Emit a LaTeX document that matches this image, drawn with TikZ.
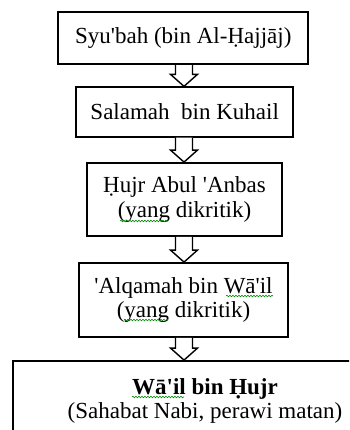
\documentclass[tikz,border=0pt]{standalone}
\usepackage{fontspec}
\setmainfont{Liberation Serif}
\usetikzlibrary{calc,decorations.pathmorphing}
\newcommand\ap{\textquotesingle}
\tikzset{
  box/.style={draw=black, line width=1.8pt, rectangle, inner sep=0pt, align=center,
    font=\fontsize{23}{24.5}\selectfont},
  blockarrow/.style={draw=black, line width=1.4pt, fill=white, line join=miter},
  squiggle/.style={draw=green!55!black, line width=0.6pt,
    decorate, decoration={snake, amplitude=0.8pt, segment length=3pt}}
}
\newcommand\blockarr[2]{%
  \draw[blockarrow] ($(#1.south -| ax)+(-8.5,0)$) -- ($(#2.north -| ax)+(-8.5,-12)$)
    -- ($(#2.north -| ax)+(-13.5,-12)$) -- (#2.north -| ax)
    -- ($(#2.north -| ax)+(13.5,-12)$) -- ($(#2.north -| ax)+(8.5,-12)$)
    -- ($(#1.south -| ax)+(8.5,0)$);}
\begin{document}
\begin{tikzpicture}[x=1pt,y=-1pt]
\useasboundingbox (0,0) rectangle (349,430);
\clip (0,0) rectangle (349,430);
\fill[white] (0,0) rectangle (349,430);
\coordinate (ax) at (184,0);
\node[box, minimum width=250pt, minimum height=52pt] (b1) at (183.3,38.3) {Syu\ap bah (bin Al-Ḥajjāj)};
\node[box, minimum width=217pt, minimum height=49.5pt] (b2) at (184.7,112) {Salamah\ \ bin Kuhail};
\node[box, minimum width=195pt, minimum height=73pt] (b3) at (184.5,199.5) {Ḥujr Abul \ap Anbas\\(yang dikritik)};
\node[box, minimum width=209pt, minimum height=74pt] (b4) at (183.5,300) {\ap Alqamah bin Wā\ap il\\(yang dikritik)};
\node[box, minimum width=384pt, minimum height=80pt] (b5) at (205,401) {\textbf{Wā\ap il bin Ḥujr}\\(Sahabat Nabi, perawi matan)};
\blockarr{b1}{b2}
\blockarr{b2}{b3}
\blockarr{b3}{b4}
\blockarr{b4}{b5}
\draw[squiggle] (120,221) -- (168,221);
\draw[squiggle] (124,320) -- (168,320);
\draw[squiggle] (226,296) -- (273,296);
\draw[squiggle] (132,397) -- (184,397);
\end{tikzpicture}
\end{document}
